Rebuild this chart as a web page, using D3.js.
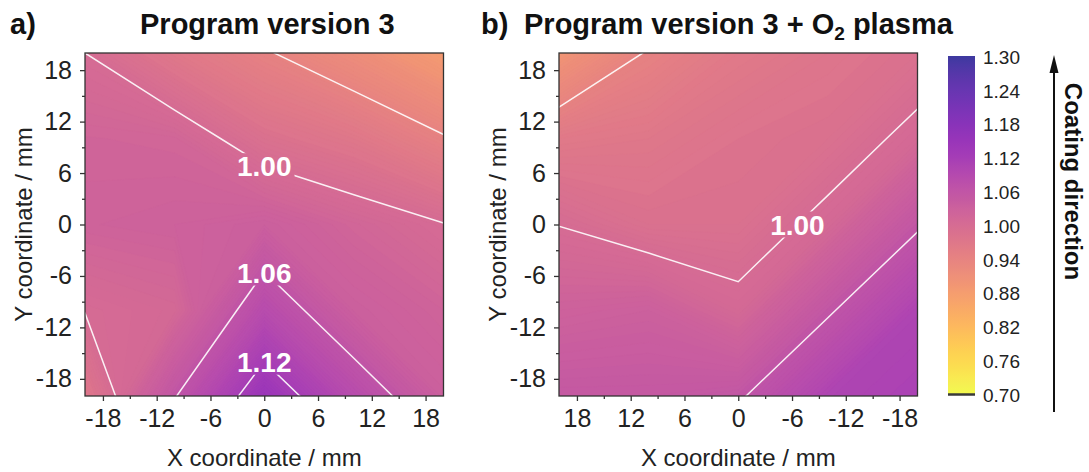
<!DOCTYPE html>
<html>
<head>
<meta charset="utf-8">
<script src="https://cdn.jsdelivr.net/npm/d3@7"></script>
<style>
  html, body { margin: 0; padding: 0; background: #ffffff; }
  svg { display: block; font-family: "Liberation Sans", Arial, Helvetica, sans-serif; }
</style>
</head>
<body>
<svg id="chart" width="1089" height="472"></svg>
<script>
// Measurement grid positions (mm)
const gridX = [-20, -10, 0, 10, 20];
const gridY = [20, 10, 0, -10, -20];          // rows, top to bottom

// Relative coating thickness, rows follow gridY, columns follow gridX
const thicknessA = [
  [1.000, 0.968, 0.943, 0.916, 0.883],
  [1.018, 1.016, 0.985, 0.970, 0.943],
  [1.022, 1.025, 1.0325, 1.016, 1.001],
  [1.001, 1.0086, 1.0825, 1.032, 1.020],
  [0.970, 1.058, 1.145, 1.082, 1.031]
];
const thicknessB = [
  [0.985, 0.975, 0.965, 0.943, 0.897],
  [1.008, 0.985, 0.980, 0.970, 0.965],
  [1.056, 1.0077, 0.985, 0.985, 0.9995],
  [1.102, 1.056, 1.0075, 1.030, 1.025],
  [1.110, 1.102, 1.056, 1.050, 1.050]
];

// Iso-lines and where their values are written: [x mm, y mm, level]
const contourLevels = [0.94, 1.00, 1.06, 1.12];
const labelsA = [[0, 6.8, 1.00], [0, -5.6, 1.06], [0, -16.0, 1.12]];
const labelsB = [[-6.6, 0.0, 1.00]];

const axisTicks = [-18, -12, -6, 0, 6, 12, 18];
const minorTicks = [-15, -9, -3, 3, 9, 15];
const colorTicks = [1.30, 1.24, 1.18, 1.12, 1.06, 1.00, 0.94, 0.88, 0.82, 0.76, 0.70];
const colorRange = [0.70, 1.30];

const svg = d3.select("#chart");
const defs = svg.append("defs");
const INK = "#222222";
const FRAME = "#333333";
const LABEL_SIZE = 28;

// reversed plasma, washed slightly toward white
function colorOf(v) {
  const t = (colorRange[1] - v) / (colorRange[1] - colorRange[0]);
  return d3.interpolateRgb("#ffffff", d3.interpolatePlasma(Math.max(0, Math.min(1, t))))(0.8);
}

function drawPanel(cfg) {
  const { id, left, right, top, bottom, xDomain, grid, labels } = cfg;
  const x = d3.scaleLinear().domain(xDomain).range([left, right]);
  const y = d3.scaleLinear().domain([-20, 20]).range([bottom, top]);
  const nx = gridX.length, ny = gridY.length;
  // contour grid coordinates: node i sits at i + 0.5
  const gx = d3.scaleLinear().domain([0.5, nx - 0.5]).range([x(gridX[0]), x(gridX[nx - 1])]);
  const gy = d3.scaleLinear().domain([0.5, ny - 0.5]).range([y(gridY[0]), y(gridY[ny - 1])]);
  const path = d3.geoPath(d3.geoTransform({
    point(px, py) { this.stream.point(gx(px), gy(py)); }
  }));
  const values = grid.flat();

  defs.append("clipPath").attr("id", "clip-" + id)
    .append("rect").attr("x", left).attr("y", top)
    .attr("width", right - left).attr("height", bottom - top);

  const g = svg.append("g");

  // continuous fill: many thin iso-bands
  const step = 0.0025;
  const lo = Math.floor(d3.min(values) / step) * step - step;
  const thresholds = d3.range(lo, d3.max(values), step);
  const bands = d3.contours().size([nx, ny]).thresholds(thresholds)(values);
  g.append("g").attr("clip-path", `url(#clip-${id})`)
    .selectAll("path").data(bands).join("path")
    .attr("d", path)
    .attr("fill", d => colorOf(d.value + step / 2))
    .attr("stroke", d => colorOf(d.value + step / 2))
    .attr("stroke-width", 0.4);

  // contour labels (measured first so the lines can break around them)
  const labelG = g.append("g");
  const lab = labelG.selectAll("text").data(labels).join("text")
    .attr("x", d => x(d[0]))
    .attr("y", d => y(d[1]) + LABEL_SIZE * 0.36)
    .attr("text-anchor", "middle")
    .attr("font-size", LABEL_SIZE)
    .attr("font-weight", "bold")
    .attr("fill", "#ffffff")
    .text(d => d[2].toFixed(2));

  const mask = defs.append("mask").attr("id", "gap-" + id)
    .attr("maskUnits", "userSpaceOnUse")
    .attr("x", 0).attr("y", 0).attr("width", 1089).attr("height", 472);
  mask.append("rect").attr("width", 1089).attr("height", 472).attr("fill", "#fff");
  lab.each(function (d) {
    const w = this.getComputedTextLength();
    mask.append("rect")
      .attr("x", x(d[0]) - w / 2 - 3).attr("y", y(d[1]) - 13)
      .attr("width", w + 6).attr("height", 26)
      .attr("fill", "#000");
  });

  const lines = d3.contours().size([nx, ny]).thresholds(contourLevels)(values);
  g.insert("g", () => labelG.node())
    .attr("clip-path", `url(#clip-${id})`)
    .append("g").attr("mask", `url(#gap-${id})`)
    .selectAll("path").data(lines).join("path")
    .attr("d", path)
    .attr("fill", "none")
    .attr("stroke", "#ffffff")
    .attr("stroke-opacity", 0.9)
    .attr("stroke-width", 1.5);

  // frame
  g.append("rect").attr("x", left).attr("y", top)
    .attr("width", right - left).attr("height", bottom - top)
    .attr("fill", "none").attr("stroke", FRAME).attr("stroke-width", 1.3);

  // axes
  const fmt = d => String(d);
  const styleAxis = sel => {
    sel.select(".domain").remove();
    sel.selectAll(".tick line").attr("stroke", FRAME).attr("stroke-width", 1.3);
    sel.selectAll(".tick text").attr("fill", INK).attr("font-size", 25)
      .attr("font-family", "'Liberation Sans', Arial, sans-serif");
  };
  g.append("g").attr("transform", `translate(0,${bottom})`)
    .call(d3.axisBottom(x).tickValues(minorTicks).tickSize(3).tickFormat(""))
    .call(styleAxis);
  g.append("g").attr("transform", `translate(0,${bottom})`)
    .call(d3.axisBottom(x).tickValues(axisTicks).tickSize(5).tickPadding(8).tickFormat(fmt))
    .call(styleAxis);
  g.append("g").attr("transform", `translate(${left},0)`)
    .call(d3.axisLeft(y).tickValues(minorTicks).tickSize(3).tickFormat(""))
    .call(styleAxis);
  g.append("g").attr("transform", `translate(${left},0)`)
    .call(d3.axisLeft(y).tickValues(axisTicks).tickSize(5).tickPadding(8).tickFormat(fmt))
    .call(styleAxis);

  // axis titles
  g.append("text")
    .attr("x", (left + right) / 2).attr("y", 466)
    .attr("text-anchor", "middle").attr("font-size", 24).attr("fill", INK)
    .text("X coordinate / mm");
  g.append("text")
    .attr("transform", `translate(${left - 53},${(top + bottom) / 2}) rotate(-90)`)
    .attr("text-anchor", "middle").attr("font-size", 24).attr("fill", INK)
    .text("Y coordinate / mm");
}

drawPanel({ id: "a", left: 85, right: 443.5, top: 53, bottom: 396,
            xDomain: [-20, 20], grid: thicknessA, labels: labelsA });
drawPanel({ id: "b", left: 559, right: 917.5, top: 53, bottom: 396,
            xDomain: [20, -20], grid: thicknessB, labels: labelsB });

// panel titles
const titleG = svg.append("g").attr("font-weight", "bold").attr("font-size", 29).attr("fill", "#111");
titleG.append("text").attr("x", 10).attr("y", 34).text("a)");
titleG.append("text").attr("x", 140).attr("y", 34).text("Program version 3");
titleG.append("text").attr("x", 481).attr("y", 34).text("b)");
const tb = titleG.append("text").attr("x", 524).attr("y", 34);
tb.append("tspan").text("Program version 3 + O");
tb.append("tspan").attr("font-size", 19).attr("dy", 6).text("2");
tb.append("tspan").attr("dy", -6).text(" plasma");

// colour bar
const cb = { left: 948, right: 975, top: 56, bottom: 394 };
const cbScale = d3.scaleLinear().domain([colorRange[1], colorRange[0]]).range([cb.top + 1, cb.bottom + 1]);
const grad = defs.append("linearGradient").attr("id", "cbar")
  .attr("x1", 0).attr("y1", 0).attr("x2", 0).attr("y2", 1);
d3.range(0, 1.0001, 0.025).forEach(o => {
  grad.append("stop").attr("offset", o)
    .attr("stop-color", colorOf(colorRange[1] - o * (colorRange[1] - colorRange[0])));
});
svg.append("rect").attr("x", cb.left).attr("y", cb.top)
  .attr("width", cb.right - cb.left).attr("height", cb.bottom - cb.top)
  .attr("fill", "url(#cbar)");
svg.append("line").attr("x1", cb.left).attr("x2", cb.right)
  .attr("y1", cb.bottom + 0.5).attr("y2", cb.bottom + 0.5)
  .attr("stroke", "#3a3a3a").attr("stroke-width", 2.5);
svg.append("g").selectAll("text").data(colorTicks).join("text")
  .attr("x", 983).attr("y", d => cbScale(d) + 19 * 0.36)
  .attr("font-size", 19).attr("fill", INK)
  .text(d => d.toFixed(2));

// coating direction arrow
svg.append("line").attr("x1", 1054).attr("x2", 1054).attr("y1", 412).attr("y2", 70)
  .attr("stroke", "#111").attr("stroke-width", 2);
svg.append("path").attr("d", "M1054,55 L1049.5,73 L1058.5,73 Z").attr("fill", "#111");
svg.append("text")
  .attr("transform", "translate(1065,181.5) rotate(90)")
  .attr("text-anchor", "middle").attr("font-size", 24).attr("font-weight", "bold").attr("fill", "#111")
  .text("Coating direction");
</script>
</body>
</html>
